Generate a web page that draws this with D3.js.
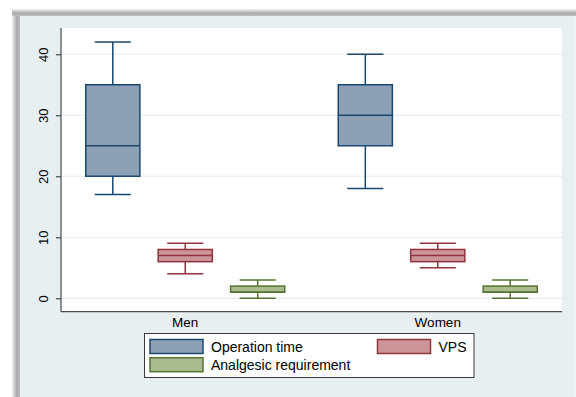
<!DOCTYPE html>
<html><head><meta charset="utf-8">
<script src="https://cdn.jsdelivr.net/npm/d3@7"></script>
<style>html,body{margin:0;padding:0;background:#fff;}svg{display:block;font-family:"Liberation Sans",Arial,sans-serif;}</style>
</head><body>
<svg id="c" width="576" height="397"></svg>
<script>
const groups = ["Men", "Women"];
const series = ["Operation time", "VPS", "Analgesic requirement"];
// [min, q1, median, q3, max] per group
const operationTime = [[17, 20, 25, 35, 42], [18, 25, 30, 35, 40]];
const vps = [[4, 6, 7, 8, 9], [5, 6, 7, 8, 9]];
const analgesic = [[0, 1, 1, 2, 3], [0, 1, 1, 2, 3]];
const yTicks = [0, 10, 20, 30, 40];

const seriesData = [operationTime, vps, analgesic];
const fills = ["#8ca0b6", "#cc959a", "#a9bb8f"];
const strokes = ["#1a476f", "#90353b", "#55752f"];

const svg = d3.select("#c");
// shadow
const defs = svg.append("defs");
const gl = defs.append("linearGradient").attr("id", "gL").attr("x1", 0).attr("x2", 1).attr("y1", 0).attr("y2", 0);
gl.append("stop").attr("offset", "0").attr("stop-color", "#f2f2f2");
gl.append("stop").attr("offset", "0.6").attr("stop-color", "#a9a9a9");
gl.append("stop").attr("offset", "1").attr("stop-color", "#bdbdbd");
const gt = defs.append("linearGradient").attr("id", "gT").attr("x1", 0).attr("x2", 0).attr("y1", 0).attr("y2", 1);
gt.append("stop").attr("offset", "0").attr("stop-color", "#f2f2f2");
gt.append("stop").attr("offset", "0.6").attr("stop-color", "#a9a9a9");
gt.append("stop").attr("offset", "1").attr("stop-color", "#bdbdbd");
svg.append("rect").attr("x", 12).attr("y", 9).attr("width", 8).attr("height", 388).attr("fill", "url(#gL)");
svg.append("rect").attr("x", 12).attr("y", 9).attr("width", 564).attr("height", 7).attr("fill", "url(#gT)");
svg.append("rect").attr("x", 20).attr("y", 16).attr("width", 556).attr("height", 381).attr("fill", "#e8eff1");
svg.append("line").attr("x1", 574.5).attr("x2", 574.5).attr("y1", 16).attr("y2", 397).attr("stroke", "#f6f9fa").attr("stroke-width", 1);

const L = 61, R = 562, T = 28, B = 311.7;
svg.append("rect").attr("x", L).attr("y", T).attr("width", R - L).attr("height", B - T).attr("fill", "#fff");

const y = d3.scaleLinear().domain([-2.2, 44.3]).range([B, T]);
const x0 = d3.scaleBand().domain(groups).range([L, R]).paddingInner(0.1).paddingOuter(0.042);
const x1 = d3.scaleBand().domain(series).range([0, x0.bandwidth()]).paddingInner(0.253).paddingOuter(0.195);

// gridlines
svg.append("g").selectAll("line").data(yTicks).join("line")
  .attr("x1", L).attr("x2", R).attr("y1", d => y(d)).attr("y2", d => y(d))
  .attr("stroke", "#e4ecee").attr("stroke-width", 1.2);

// boxes
groups.forEach((g, gi) => {
  series.forEach((s, si) => {
    const [mn, q1, md, q3, mx] = seriesData[si][gi];
    const bx = x0(g) + x1(s);
    const bw = x1.bandwidth();
    const cx = bx + bw / 2;
    const cw = bw * 2 / 3;
    const grp = svg.append("g").attr("stroke", strokes[si]).attr("stroke-width", 1.5);
    grp.append("line").attr("x1", cx).attr("x2", cx).attr("y1", y(q3)).attr("y2", y(mx));
    grp.append("line").attr("x1", cx).attr("x2", cx).attr("y1", y(q1)).attr("y2", y(mn));
    grp.append("line").attr("x1", cx - cw / 2).attr("x2", cx + cw / 2).attr("y1", y(mx)).attr("y2", y(mx));
    grp.append("line").attr("x1", cx - cw / 2).attr("x2", cx + cw / 2).attr("y1", y(mn)).attr("y2", y(mn));
    grp.append("rect").attr("x", bx).attr("width", bw).attr("y", y(q3)).attr("height", y(q1) - y(q3)).attr("fill", fills[si]);
    grp.append("line").attr("x1", bx).attr("x2", bx + bw).attr("y1", y(md)).attr("y2", y(md));
  });
});

// y axis
const ya = svg.append("g").attr("transform", `translate(${L},0)`)
  .call(d3.axisLeft(y).tickValues(yTicks).tickSize(5).tickPadding(0).tickFormat(d3.format("d")));
ya.select(".domain").attr("d", `M0,${T}V${B}`).attr("stroke", "#4a4a4a").attr("stroke-width", 1.2);
ya.selectAll(".tick line").attr("stroke", "#4a4a4a").attr("stroke-width", 1.2);
ya.selectAll(".tick text").attr("x", 0).attr("dy", 0).attr("transform", "translate(-13,0) rotate(-90)")
  .attr("text-anchor", "middle").attr("font-size", 13).attr("fill", "#000")
  .attr("font-family", '"Liberation Sans",Arial,sans-serif');

// x axis
const xa = svg.append("g").attr("transform", `translate(0,${B})`)
  .call(d3.axisBottom(x0).tickSize(0).tickPadding(6));
xa.select(".domain").attr("d", `M${L},0H${R}`).attr("stroke", "#4a4a4a").attr("stroke-width", 1.2);
xa.selectAll(".tick text").attr("font-size", 13.5).attr("fill", "#000").attr("dy", "0.71em")
  .attr("font-family", '"Liberation Sans",Arial,sans-serif');

// legend
const lg = svg.append("g");
lg.append("rect").attr("x", 144.5).attr("y", 333.5).attr("width", 329.5).attr("height", 44)
  .attr("fill", "#fff").attr("stroke", "#3a3a3a").attr("stroke-width", 1);
const legPos = [[150, 339.5], [377.5, 339.5], [150, 357.7]];
series.forEach((s, i) => {
  const [lx, ly] = legPos[i];
  lg.append("rect").attr("x", lx).attr("y", ly).attr("width", 53).attr("height", 14)
    .attr("fill", fills[i]).attr("stroke", strokes[i]).attr("stroke-width", 1.5);
  lg.append("text").attr("x", lx + 61).attr("y", ly + 12.3).attr("font-size", 14).attr("fill", "#000").text(s);
});
</script>
</body></html>
